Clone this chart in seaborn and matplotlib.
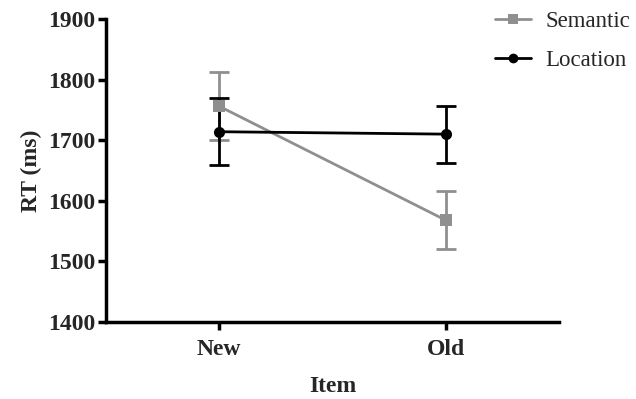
import matplotlib
matplotlib.use("Agg")
import matplotlib.pyplot as plt
import numpy as np
import pandas as pd
import seaborn as sns

items = ["New", "Old"]
semantic_mean = [1756, 1568]
semantic_err = [56, 48]
location_mean = [1714, 1710]
location_err = [55, 47]

sns.set_style("ticks")
plt.rcParams['font.family'] = ['Liberation Serif', 'DejaVu Serif']

df = pd.DataFrame({
    "pos": [0, 1, 0, 1],
    "rt": semantic_mean + location_mean,
    "err": semantic_err + location_err,
    "cond": ["Semantic"] * 2 + ["Location"] * 2,
})

fig = plt.figure(figsize=(6.36, 3.99), dpi=100)
ax = fig.add_axes([106 / 636, 1 - 322 / 399, (559 - 106) / 636, (322 - 19) / 399])

palette = {"Semantic": "#8f8f8f", "Location": "#000000"}
markers = {"Semantic": "s", "Location": "o"}

for cond in ["Semantic", "Location"]:
    sub = df[df["cond"] == cond]
    ax.errorbar(sub["pos"], sub["rt"], yerr=sub["err"], fmt="none",
                ecolor=palette[cond], elinewidth=2, capsize=7, capthick=2, zorder=2)

sns.lineplot(data=df, x="pos", y="rt", hue="cond", style="cond",
             palette=palette, markers=markers, dashes=False, markersize=8,
             markeredgewidth=0, linewidth=2, ax=ax, legend=False, zorder=3)

ax.set_xlim(-0.5, 1.5)
ax.set_ylim(1400, 1900)
ax.set_xticks([0, 1])
ax.set_xticklabels(items)
ax.set_yticks(np.arange(1400, 1901, 100))
ax.set_xlabel("Item", fontsize=17, fontweight="bold", labelpad=12)
ax.set_ylabel("RT (ms)", fontsize=17, fontweight="bold", labelpad=4)
ax.tick_params(axis="both", labelsize=17, width=2.5, length=6, color="black")
ax.tick_params(axis="x", pad=6)
ax.tick_params(axis="y", pad=2)
for lab in ax.get_xticklabels() + ax.get_yticklabels():
    lab.set_fontweight("bold")
for side in ["top", "right"]:
    ax.spines[side].set_visible(False)
for side in ["left", "bottom"]:
    ax.spines[side].set_linewidth(2.5)
    ax.spines[side].set_color("black")

handles = [
    plt.Line2D([], [], color=palette[c], marker=markers[c], markersize=7,
               markeredgewidth=0, linewidth=2) for c in ["Semantic", "Location"]
]
fig.legend(handles, ["Semantic", "Location"], loc="upper left",
           bbox_to_anchor=(474 / 636, 1.025), frameon=False, fontsize=16.5,
           handlelength=1.6, labelspacing=0.8, handletextpad=0.6)

fig.savefig("out.png", dpi=100)
